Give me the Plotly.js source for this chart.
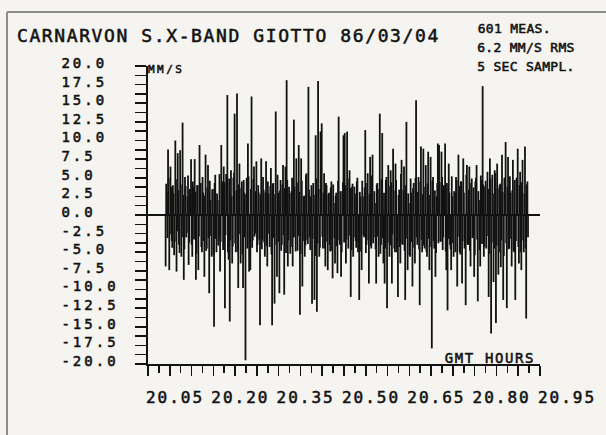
<!DOCTYPE html>
<html>
<head>
<meta charset="utf-8">
<script src="https://cdn.plot.ly/plotly-3.0.1.min.js"></script>
<style>
html,body{margin:0;padding:0;background:#f5f4f0;}
#chart{width:606px;height:435px;}
#chart text{stroke:#141414;stroke-width:0.55px;}
#chart .gtitle{letter-spacing:1.6px;}
#chart .xtick text{letter-spacing:2px;}
#chart .ytick text{letter-spacing:3px;}
#chart .annotation[data-index="0"] text,
#chart .annotation[data-index="1"] text,
#chart .annotation[data-index="2"] text{letter-spacing:0.3px;}
#chart .annotation[data-index="3"] text{letter-spacing:2.5px;}
#chart .annotation[data-index="4"] text{letter-spacing:1.6px;}
</style>
</head>
<body>
<div id="chart"></div>
<script>
// ---- data, 5-s samples, MM/S ----
var startHour = 20.0905;         // GMT hours of first sample
var stepSeconds = 5;
// even samples: the visible spikes, read one by one
var evenSamples = [
 -6.9, 3.0, 8.8, -7.4, 6.5, -3.5, 4.0, -5.4, 10.0, -7.6,
 8.3, -4.0, 8.7, -5.6, 12.4, -8.7, 5.1, -3.0, 2.5, -6.7,
 3.5, 7.5, -5.6, 3.8, 7.5, -8.7, 4.0, -7.4, 9.4, 4.3,
 -5.0, 3.0, -8.3, 8.1, -4.5, 6.7, -10.5, 2.0, -5.6, 3.5,
 -15.0, 5.4, -5.0, 2.0, -3.0, -7.6, 9.4, 4.5, 6.5, -12.5,
 5.5, 16.1, -6.0, -14.3, 6.0, -6.5, 5.0, 13.6, -5.0, 16.3,
 -9.8, 6.9, -6.5, 4.5, -9.8, 3.0, -19.5, 5.0, 9.6, -7.6,
 -7.4, 15.9, -3.4, 6.5, -2.5, 7.2, -4.0, 3.0, -14.8, 7.6,
 -3.4, 3.4, -5.6, 7.2, -6.9, 2.9, -4.3, 6.3, -14.8, 4.3,
 -11.9, 13.9, -8.3, 3.0, -10.5, 4.7, -4.0, 6.7, -10.7, 6.5,
 18.1, -6.9, 3.8, -5.2, 3.2, -6.9, 12.8, -3.0, 7.6, -4.8,
 9.4, -13.4, 7.6, -9.6, 2.5, -5.6, 5.4, -3.4, 17.2, -3.0,
 2.5, -11.9, 4.3, -11.4, 10.7, -13.0, 18.0, -5.6, 11.2, 12.3,
 -4.5, 5.6, -6.9, 4.0, -7.4, 3.0, -4.9, 4.5, -8.5, 1.6,
 -6.5, 3.0, -7.8, 13.2, -4.0, -8.3, 3.2, 10.7,
 11.0, -6.5, 11.2, -4.5, 6.0, -11.0, 3.8, -5.6, 3.8, -3.5,
 4.5, -5.0, -11.4, 2.5, -7.4, 2.5, -3.0, 11.4, -4.0, 5.6,
 -9.2, 7.8, -4.5, 8.1, -3.0, 1.6, -9.2, 4.3, -5.6, 13.6,
 -4.0, 11.0, -6.5, -9.2, 4.7, -12.5, 6.7, -5.6, 6.0, -9.2,
 8.9, -4.5, 6.9, -5.0, -11.0, 3.4, -6.5, 7.4, -4.0, 6.5,
 -11.4, 12.5, -7.4, 1.6, -5.6, 3.0, -9.6, 4.3, -6.5, 15.4,
 -4.0, 5.1, -12.1, 9.2, -5.0, 8.9, -4.5, 6.7, -5.6, 8.5,
 -7.4, 7.8, -17.9, 5.1, -4.5, -8.3, 2.5, 9.6,
 9.4, -3.5, 8.5, -4.7, 4.0, 9.6, -7.4, -12.8, 6.9, -4.0,
 -7.4, 2.5, -5.6, 3.0, 5.1, -9.6, 8.1, -5.0, 4.5, -9.2,
 7.6, -4.5, -12.1, 6.7, -4.0, 6.5, -6.9, 4.9, -3.0, -8.3,
 4.5, 6.7, -11.6, 2.0, -6.9, 4.7, 17.3, -5.6, 3.8, -4.5,
 5.8, -11.0, 7.6, -15.9, 5.4, -9.0, 6.0, -14.5, 6.9, -8.0,
 4.0, -7.0, 8.1, -11.4, 5.0, 9.8, -12.5, 7.8, -4.5, 3.0,
 -6.9, 7.4, -5.0, -11.4, 5.0, 8.9, -6.5, 5.8, -7.4, 7.4,
 -5.0, 9.2, -13.9, 4.5
];
// odd samples: the dense band around zero, estimated
var oddSamples = [
 4.2, -3.1, 5.0, -2.6, 3.8, -4.4, 2.9, -3.6, 4.8, -2.2,
 3.3, -5.1, 4.1, -3.0, 2.7, -4.6, 3.9, -2.4, 5.3, -3.7,
 2.8, -4.0, 4.5, -3.3, 3.1, -5.2, 4.0, -2.9, 3.6, -4.3,
 5.1, -3.5, 2.6, -4.8, 3.7, -3.1, 4.6, -2.8, 3.4, -5.4,
 4.3, -3.2, 2.9, -4.1, 5.5, -3.6, 3.0, -4.7, 4.4, -2.7,
 3.8, -5.0, 4.9, -3.4, 2.5, -4.2, 5.7, -3.8, 3.3, -4.9,
 4.1, -2.6, 3.6, -5.3, 4.7, -3.0, 2.8, -4.5, 5.2, -3.9,
 3.5, -4.4, 4.8, -2.9, 3.2, -5.0, 4.0, -3.3, 2.7, -4.6,
 5.1, -3.7, 3.0, -4.2, 4.5, -2.5, 3.9, -5.3, 4.2, -3.1,
 2.8, -4.0, 5.4, -3.6, 3.3, -4.8, 4.1, -2.7, 3.6, -5.1,
 4.7, -3.4, 2.9, -4.3, 5.0, -3.0, 3.8, -4.9, 4.4, -2.8,
 3.1, -5.2, 4.6, -3.5, 2.6, -4.1, 5.6, -3.9, 3.4, -4.7,
 4.0, -3.2, 2.7, -5.5, 4.9, -3.8, 3.5, -4.4, 5.2, -2.9,
 3.0, -4.5, 4.3, -3.6, 2.8, -4.0, 3.7, -4.8, 4.1, -3.1,
 2.6, -4.2, 4.6, -3.4, 3.2, -5.0, 4.4, -3.7,
 4.0, -3.3, 4.9, -2.8, 3.6, -4.7, 4.2, -3.0, 2.9, -4.4,
 5.0, -3.6, 3.1, -4.9, 4.6, -2.7, 3.7, -5.1, 4.3, -3.4,
 2.8, -4.2, 5.3, -3.8, 3.2, -4.6, 4.1, -2.9, 3.5, -5.2,
 4.8, -3.1, 3.0, -4.5, 5.1, -3.7, 3.9, -4.1, 4.4, -2.6,
 3.3, -5.0, 4.7, -3.5, 2.7, -4.3, 5.5, -3.9, 3.4, -4.8,
 4.0, -3.2, 2.9, -5.4, 4.9, -3.6, 3.6, -4.4, 5.0, -3.0,
 3.1, -4.6, 4.5, -3.3, 2.8, -4.1, 3.8, -4.9, 4.2, -3.2,
 2.7, -4.3, 4.6, -3.5, 3.3, -5.1, 4.3, -3.8,
 4.4, -3.6, 5.1, -3.0, 3.7, -4.9, 4.3, -3.2, 3.0, -4.6,
 5.2, -3.8, 3.2, -5.0, 4.7, -2.9, 3.9, -5.3, 4.5, -3.5,
 3.0, -4.4, 5.4, -4.0, 3.4, -4.8, 4.3, -3.1, 3.7, -5.4,
 5.0, -3.3, 3.2, -4.7, 5.3, -3.9, 4.1, -4.3, 4.6, -2.8,
 3.5, -5.2, 4.9, -3.7, 2.9, -4.5, 5.6, -4.1, 3.6, -5.0,
 4.2, -3.4, 3.1, -5.5, 5.0, -3.8, 3.8, -4.6, 5.2, -3.2,
 3.3, -4.8, 4.7, -3.5, 3.0, -4.3, 4.0, -5.0, 4.4, -3.4,
 2.9, -4.5, 4.1, -3.0
];
var xTickVals = [20.05,20.10,20.15,20.20,20.25,20.30,20.35,20.40,20.45,20.50,20.55,20.60,20.65,20.70,20.75,20.80,20.85,20.90,20.95];
var xTickText = ['20.05','','','20.20','','','20.35','','','20.50','','','20.65','','','20.80','','','20.95'];
var yTickVals = [20,17.5,15,12.5,10,7.5,5,2.5,0,-2.5,-5,-7.5,-10,-12.5,-15,-17.5,-20];
var yTickText = ['20.0','17.5','15.0','12.5','10.0','7.5','5.0','2.5','0.0','-2.5','-5.0','-7.5','-10.0','-12.5','-15.0','-17.5','-20.0'];
var titleText = 'CARNARVON S.X-BAND GIOTTO 86/03/04';
var infoLines = ['601 MEAS.', '6.2 MM/S RMS', '5 SEC SAMPL.'];
var yUnit = 'MM/S';
var xUnit = 'GMT HOURS';

// ---- build stems (samples in time order) ----
var sx = [], sy = [];
var n = 0;
function addStem(v){
  var t = startHour + n * stepSeconds / 3600;
  sx.push(t, t, null);
  sy.push(0, v, null);
  n++;
}
for (var i = 0; i < evenSamples.length; i++) {
  addStem(evenSamples[i]);
  if (i < oddSamples.length) addStem(oddSamples[i]);
}
var ink = '#121212';
var trace = {type:'scatter', mode:'lines', x:sx, y:sy, line:{color:ink, width:1.8}, hoverinfo:'skip'};

// left-align y labels in monospace by padding to equal length
var yLabels = yTickText.map(function(s){ while (s.length < 5) s = s + '\u00a0'; return s; });

var L = 148, T = 66, W = 392, H = 298.5;
function px(x){ return (x - L) / W; }
function py(y){ return (T + H - y) / H; }

var fam = 'DejaVu Sans Mono';
var annotations = [];
infoLines.forEach(function(s, k){
  annotations.push({text:s, xref:'paper', yref:'paper', x:px(477), y:py([28,47.5,67][k]), xanchor:'left', yanchor:'middle', showarrow:false, font:{size:13, family:fam, color:ink}});
});
annotations.push({text:yUnit, xref:'paper', yref:'paper', x:px(151), y:py(70), xanchor:'left', yanchor:'middle', showarrow:false, font:{size:11, family:fam, color:ink}});
annotations.push({text:xUnit, xref:'paper', yref:'paper', x:px(450), y:py(358.5), xanchor:'left', yanchor:'middle', showarrow:false, font:{size:14, family:fam, color:ink}});

var layout = {
  width:606, height:435,
  margin:{l:148, r:66, t:66, b:70.5, pad:0},
  paper_bgcolor:'#f5f4f0', plot_bgcolor:'#f5f4f0',
  showlegend:false,
  font:{family:fam, color:ink},
  title:{text:titleText, x:17/606, xanchor:'left', y:1-36/435, yanchor:'middle', font:{size:18, family:fam, color:ink}},
  xaxis:{range:[20.05,20.95], tickmode:'array', tickvals:xTickVals, ticktext:xTickText,
    ticks:'outside', ticklen:10, tickwidth:1.6, tickcolor:ink, showline:true, linecolor:ink, linewidth:1.6,
    showgrid:false, zeroline:false, tickfont:{size:16, family:fam, color:ink},
    ticklabelshift:27, ticklabelstandoff:8,
    minor:{tickmode:'linear', tick0:20.05, dtick:0.025, ticks:'outside', ticklen:7, tickwidth:1.6, tickcolor:ink, showgrid:false},
    fixedrange:true},
  yaxis:{range:[-20,20], tickmode:'array', tickvals:yTickVals, ticktext:yLabels,
    ticks:'outside', ticklen:11, tickwidth:1.6, tickcolor:ink, showline:true, linecolor:ink, linewidth:1.6,
    showgrid:false, zeroline:true, zerolinecolor:ink, zerolinewidth:1.6,
    tickfont:{size:14, family:fam, color:ink},
    ticklabelshift:-3, ticklabelstandoff:14,
    minor:{tickmode:'linear', tick0:0, dtick:1.25, ticks:'outside', ticklen:11, tickwidth:1.6, tickcolor:ink, showgrid:false},
    fixedrange:true},
  annotations:annotations,
  shapes:[
    {type:'line', xref:'paper', yref:'paper', x0:px(7), x1:px(610), y0:py(12), y1:py(12), line:{color:'#8c8c8c', width:2}},
    {type:'line', xref:'paper', yref:'paper', x0:px(7), x1:px(7), y0:py(12), y1:py(440), line:{color:'#8c8c8c', width:2}}
  ]
};
Plotly.newPlot('chart', [trace], layout, {displayModeBar:false, staticPlot:true});
</script>
</body>
</html>
